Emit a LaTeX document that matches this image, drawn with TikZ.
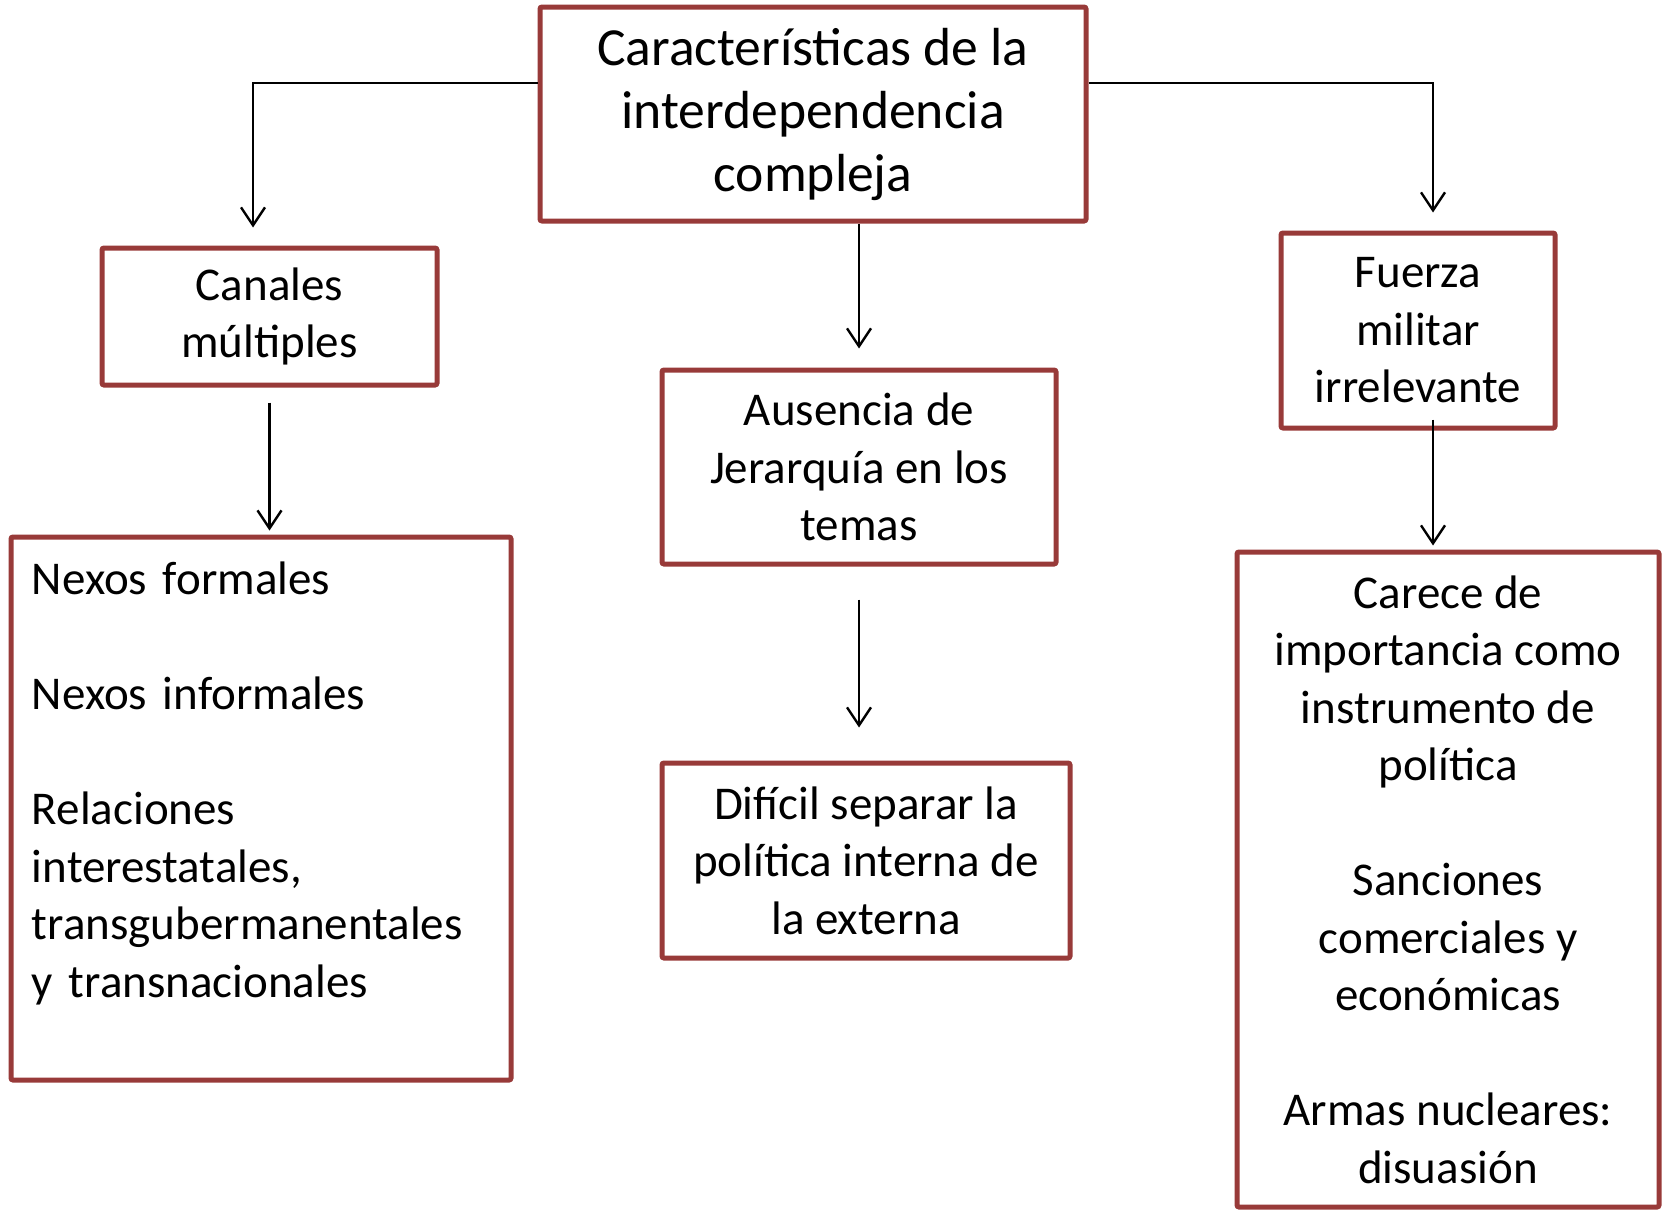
\documentclass[tikz,border=0pt]{standalone}
\usepackage{fontspec}
\setmainfont{Carlito}
\usetikzlibrary{arrows.meta}
\definecolor{boxred}{RGB}{152,58,57}
\tikzset{
  box/.style={draw=boxred, line width=2.5pt, rounded corners=1pt, align=center, inner sep=0pt,
    font=\fontsize{23.5}{28.75}\selectfont},
  arr/.style={-{Straight Barb[length=9pt,width=12pt]}, line width=1.2pt},
}
\begin{document}
\begin{tikzpicture}[x=0.5pt,y=-0.5pt]
\useasboundingbox (0,0) rectangle (1663,1210);
% boxes
\node[box, minimum width=273pt, minimum height=107pt, font=\fontsize{26.8}{31.5}\selectfont] (top) at (813,114)
  {Características de la\\interdependencia\\compleja};
\node[box, minimum width=167.5pt, minimum height=68.5pt] (canales) at (269.5,316.5) {Canales\\múltiples};
\node[box, align=left, text width=229pt, inner xsep=10.5pt, minimum height=271.5pt] (nexos) at (261,808.5)
  {Nexos formales\\ \mbox{}\\Nexos informales\\ \mbox{}\\Relaciones\\interestatales,\\transgubermanentales\\y transnacionales\\ \mbox{}};
\node[box, minimum width=197pt, minimum height=97pt] (ausencia) at (859,467) {Ausencia de\\Jerarquía en los\\temas};
\node[box, minimum width=204pt, minimum height=97.5pt] (dificil) at (866,860.5) {Difícil separar la\\política interna de\\la externa};
\node[box, minimum width=137pt, minimum height=97.5pt] (fuerza) at (1418,330.5) {Fuerza\\militar\\irrelevante};
\node[box, minimum width=211pt, minimum height=327.5pt] (carece) at (1448,879.5)
  {Carece de\\importancia como\\instrumento de\\política\\ \mbox{}\\Sanciones\\comerciales y\\económicas\\ \mbox{}\\Armas nucleares:\\disuasión};
% connectors
\draw[arr, shorten >=9pt] ([yshift=15.5pt]top.west) -| ([xshift=-8.25pt]canales.north);
\draw[arr, shorten >=9pt] ([yshift=15.5pt]top.east) -| ([xshift=7.5pt]fuerza.north);
\draw[arr, shorten >=9.5pt] (top.south -| ausencia.north) -- (ausencia.north);
\draw[arr, shorten <=7.5pt, shorten >=2pt] (canales.south) -- (canales.south |- nexos.north);
\draw[arr, shorten <=16.5pt, shorten >=16.5pt] (ausencia.south) -- (ausencia.south |- dificil.north);
\draw[arr, shorten <=-5.5pt, shorten >=2pt] ([xshift=7.5pt]fuerza.south) -- ([xshift=7.5pt]fuerza.south |- carece.north);
\end{tikzpicture}
\end{document}
